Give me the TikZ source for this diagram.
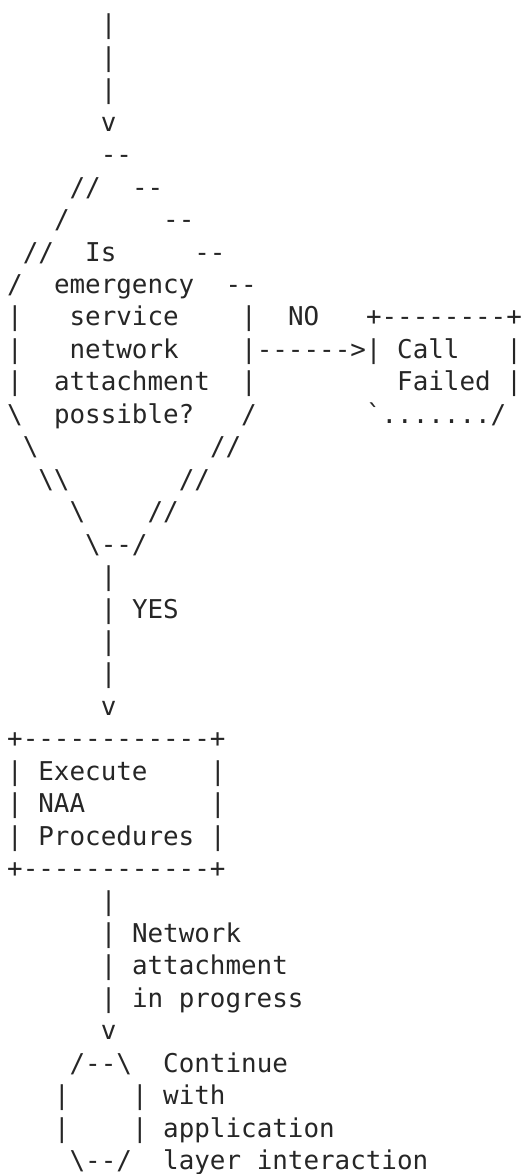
\documentclass[tikz,border=0pt]{standalone}
\usepackage{fontspec}
\setmonofont{DejaVu Sans Mono}
\definecolor{ink}{HTML}{262626}
\tikzset{
  asc/.style={anchor=base west,inner sep=0pt,outer sep=0pt,text=ink},
}
\newcommand{\bs}{\textbackslash}

\begin{document}
\begin{tikzpicture}[x=15.6pt,y=-32.45pt,font=\ttfamily\fontsize{25.9pt}{31pt}\selectfont]
\useasboundingbox (-7.2pt,1.45pt) rectangle (513.8pt,-1172.55pt);
% incoming line
\node[asc] (in1) at (6,1) {|};
\node[asc] (in2) at (6,2) {|};
\node[asc] (in3) at (6,3) {|};
\node[asc] (in4) at (6,4) {v};
% decision
\node[asc] (d5)  at (6,5)  {--};
\node[asc] (d6a) at (4,6)  {//};
\node[asc] (d6b) at (8,6)  {--};
\node[asc] (d7a) at (3,7)  {/};
\node[asc] (d7b) at (10,7) {--};
\node[asc] (d8a) at (1,8)  {//};
\node[asc] (q1)  at (5,8)  {Is};
\node[asc] (d8b) at (12,8) {--};
\node[asc] (d9a) at (0,9)  {/};
\node[asc] (q2)  at (3,9)  {emergency};
\node[asc] (d9b) at (14,9) {--};
\node[asc] (d10a) at (0,10)  {|};
\node[asc] (q3)   at (4,10)  {service};
\node[asc] (d10b) at (15,10) {|};
\node[asc] (no)   at (18,10) {NO};
\node[asc] (f1)   at (23,10) {+--------+};
\node[asc] (d11a) at (0,11)  {|};
\node[asc] (q4)   at (4,11)  {network};
\node[asc] (d11b) at (15,11) {|------>|};
\node[asc] (f2)   at (25,11) {Call};
\node[asc] (f2b)  at (32,11) {|};
\node[asc] (d12a) at (0,12)  {|};
\node[asc] (q5)   at (3,12)  {attachment};
\node[asc] (d12b) at (15,12) {|};
\node[asc] (f3)   at (25,12) {Failed};
\node[asc] (f3b)  at (32,12) {|};
\node[asc] (d13a) at (0,13)  {\bs};
\node[asc] (q6)   at (3,13)  {possible?};
\node[asc] (d13b) at (15,13) {/};
\node[asc] (f4)   at (23,13) {\symbol{96}......./};
\node[asc] (d14a) at (1,14)  {\bs};
\node[asc] (d14b) at (13,14) {//};
\node[asc] (d15a) at (2,15)  {\bs\bs};
\node[asc] (d15b) at (11,15) {//};
\node[asc] (d16a) at (4,16)  {\bs};
\node[asc] (d16b) at (9,16)  {//};
\node[asc] (d17)  at (5,17)  {\bs--/};
% yes branch
\node[asc] (y1) at (6,18) {|};
\node[asc] (y2) at (6,19) {|};
\node[asc] (yes) at (8,19) {YES};
\node[asc] (y3) at (6,20) {|};
\node[asc] (y4) at (6,21) {|};
\node[asc] (y5) at (6,22) {v};
% NAA box
\node[asc] (b1) at (0,23) {+------------+};
\node[asc] (b2) at (0,24) {|};
\node[asc] (e1) at (2,24) {Execute};
\node[asc] (b2r) at (13,24) {|};
\node[asc] (b3) at (0,25) {|};
\node[asc] (e2) at (2,25) {NAA};
\node[asc] (b3r) at (13,25) {|};
\node[asc] (b4) at (0,26) {|};
\node[asc] (e3) at (2,26) {Procedures};
\node[asc] (b4r) at (13,26) {|};
\node[asc] (b5) at (0,27) {+------------+};
% progress
\node[asc] (p1) at (6,28) {|};
\node[asc] (p2) at (6,29) {|};
\node[asc] (n1) at (8,29) {Network};
\node[asc] (p3) at (6,30) {|};
\node[asc] (n2) at (8,30) {attachment};
\node[asc] (p4) at (6,31) {|};
\node[asc] (n3) at (8,31) {in progress};
\node[asc] (p5) at (6,32) {v};
% end state
\node[asc] (s1) at (4,33) {/--\bs};
\node[asc] (c1) at (10,33) {Continue};
\node[asc] (s2a) at (3,34) {|};
\node[asc] (s2b) at (8,34) {|};
\node[asc] (c2) at (10,34) {with};
\node[asc] (s3a) at (3,35) {|};
\node[asc] (s3b) at (8,35) {|};
\node[asc] (c3) at (10,35) {application};
\node[asc] (s4) at (4,36) {\bs--/};
\node[asc] (c4) at (10,36) {layer interaction};
\end{tikzpicture}
\end{document}
